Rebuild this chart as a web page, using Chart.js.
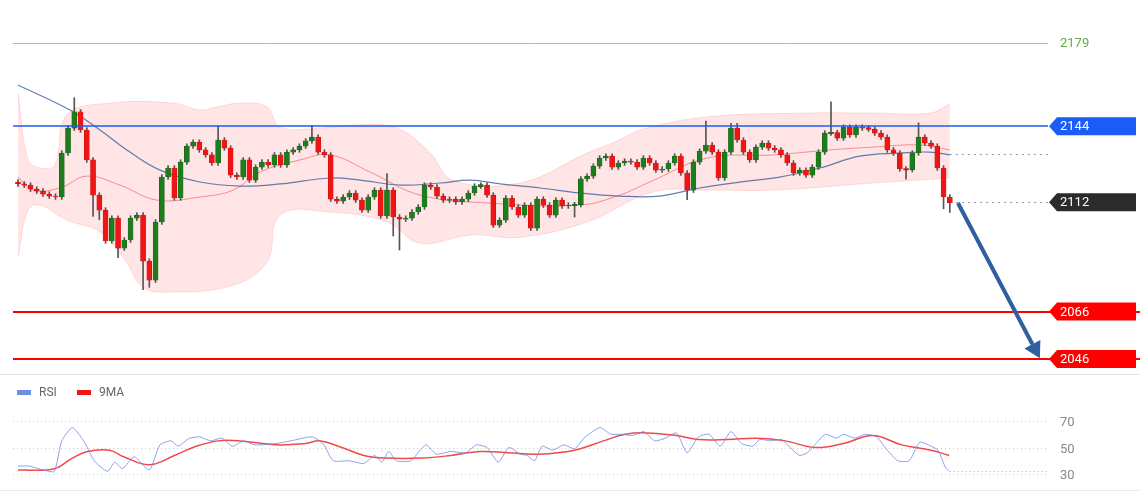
<!DOCTYPE html>
<html><head><meta charset="utf-8">
<script src="https://cdn.jsdelivr.net/npm/chart.js@4"></script>
<style>body{margin:0;background:#fff;width:1140px;height:500px;overflow:hidden;font-family:Roboto,Arial,sans-serif}
canvas{display:block}</style></head>
<body>
<canvas id="main" width="1140" height="375"></canvas>
<canvas id="rsi" width="1140" height="125"></canvas>
<script>
const firstOpen = 2120.5;
const closes = [
2119.7,2119.2,2117.5,2116.7,2115.4,2114.6,2114.2,2132.7,2143.2,2150.0,
2142.4,2129.8,2115.0,2108.7,2095.7,2105.3,2092.7,2096.1,2105.3,2106.6,
2087.2,2079.2,2103.7,2122.6,2126.4,2113.8,2128.9,2135.6,2137.3,2134.0,
2131.9,2128.5,2138.2,2134.8,2123.4,2122.6,2129.8,2121.3,2126.8,2128.9,
2127.7,2131.9,2127.7,2133.1,2134.0,2135.6,2137.8,2139.4,2133.1,2131.9,
2113.3,2112.5,2114.2,2115.9,2112.9,2108.7,2114.2,2117.1,2106.2,2117.1,
2105.8,2104.9,2105.3,2107.9,2110.0,2119.2,2118.4,2114.6,2112.9,2113.3,
2112.1,2113.3,2115.9,2118.8,2119.2,2115.0,2102.4,2104.5,2113.8,2110.0,
2106.6,2110.8,2101.1,2113.3,2110.8,2106.6,2112.9,2110.4,2110.8,2111.0,
2121.8,2123.0,2127.2,2130.6,2131.4,2126.8,2128.5,2129.3,2128.9,2126.8,
2130.6,2128.5,2125.5,2126.0,2128.5,2131.4,2124.3,2117.1,2128.9,2133.5,
2136.1,2133.1,2122.2,2133.1,2143.2,2138.2,2133.1,2129.8,2135.2,2136.9,
2134.8,2134.0,2131.9,2128.5,2124.3,2125.5,2123.4,2126.8,2133.1,2141.1,
2141.3,2139.0,2143.6,2140.3,2143.6,2143.2,2142.8,2141.1,2139.4,2134.0,
2132.7,2126.0,2125.7,2132.7,2139.4,2136.9,2135.6,2126.4,2114.2,2111.7];
const wickUp = [
1,1,1,1,1,1,1,1,1,6, 1,1,1,1,1,1,1,1,1,1, 1,1,1,1,1,1,1,1,1,1, 1,1,6,1,1,1,1,1,1,1,
1,1,1,1,1,1,1,5,1,1, 1,1,1,1,1,1,1,1,1,7, 1,1,1,1,1,1,1,1,1,1, 1,1,1,1,1,1,1,1,1,1,
1,1,1,1,1,1,1,1,1,1, 1,1,1,1,1,1,1,1,1,1, 1,1,1,1,1,1,1,1,1,1, 10,1,1,1,2,2,1,1,1,1,
1,1,1,1,1,1,1,1,1,1, 13,1,1,1,1,1,1,1,1,1, 1,1,1,1,6,1,1,1,1,1];
const wickDn = [
1,1,1,1,1,1,1,1,1,1, 1,1,9,4,1,1,4,1,1,1, 12,3,1,1,1,1,1,1,1,1, 1,1,1,1,1,1,1,1,1,1,
1,1,1,1,1,1,1,1,1,1, 1,1,1,1,1,1,1,1,1,1, 8,13,1,1,1,1,1,1,1,1, 1,1,1,1,1,1,1,1,1,1,
1,1,1,1,1,1,1,1,1,5, 1,1,1,1,1,1,1,1,1,1, 1,1,1,1,1,1,1,4,1,1, 1,1,1,1,1,1,1,1,1,1,
1,1,1,1,1,1,1,1,1,1, 1,1,1,1,1,1,1,1,1,1, 1,1,4,1,1,1,1,1,5,4];

const maSlowX = [0,8.3,13.1,17.9,22.7,29.1,35.5,41.9,49.9,54.7,61.1,67.5,72.3,77.1,83.5,89.8,96.2,102.6,109,115.4,121.8,128.2,134.6,141,145.8,149];
const maSlowY = [2161.3,2150.8,2142.4,2133.1,2125.5,2120.5,2118.8,2119.7,2122.2,2121.3,2119.2,2120.1,2121.3,2119.7,2118.0,2115.9,2114.6,2114.6,2118.0,2120.5,2122.6,2126.4,2131.4,2132.7,2133.1,2131.9];
const maFastX = [0,2.4,6.7,11,16.3,22.2,29.1,34.4,38.7,45.1,49.9,56.3,64.3,75,89.8,96.2,101,110.2,120.7,129.8,136.7,144.2,149];
const maFastY = [2122.6,2117.1,2118.0,2123.0,2119.2,2112.9,2114.2,2117.1,2124.7,2129.8,2131.9,2124.7,2115.0,2111.7,2110.8,2115.0,2120.5,2130.6,2131.9,2134.0,2135.2,2136.1,2134.0];
const bandUpX = [0,1.6,3.5,5.9,7.8,14.7,24.8,29.1,31.8,35.5,39.8,41.9,48.3,53.6,60.6,65.9,69.5,80.3,91,96.2,99.4,110.2,126.1,136.7,145.8,149];
const bandUpY = [2158.0,2129.8,2126.4,2127.7,2148.7,2153.7,2153.7,2150.8,2152.1,2153.7,2152.1,2143.6,2143.2,2144.5,2143.2,2132.7,2121.3,2120.1,2132.7,2138.2,2142.4,2147.9,2149.5,2149.5,2149.5,2153.3];
const bandLoX = [0,1.6,3.5,7.8,13.1,17.1,20,24.3,34.4,39.8,41.9,49.9,59,64.3,72.3,80.3,91,101.5,110.2,120.7,136.7,149];
const bandLoY = [2088.9,2108.7,2110.8,2104.5,2099.5,2087.7,2076.3,2074.2,2077.1,2086.8,2106.6,2107.9,2103.7,2094.8,2098.2,2097.3,2103.7,2116.3,2117.1,2117.1,2120.1,2122.2];

const levels = [2144, 2112, 2066, 2046];
const levelColors = ['#1a5cf5', '#2b2b2b', '#ff0000', '#ff0000'];
const topLevel = 2179;
const dottedLevel = 2132.3;
const arrowFrom = [150.3, 2111.7];
const arrowTo = [163.4, 2046.3];

const rsiX = [0,1.8,4.1,5.8,7,8.7,10.5,12.2,14.3,15.5,16.7,18.6,21,22.7,24.5,25.6,27.4,29.1,30.8,32.6,34.3,36.1,37.8,41.3,43.6,47.1,48.9,50.4,52.9,55.3,57,58.2,59.3,60.5,62.8,65.2,66.9,69.2,71.6,73.3,75,76.8,78.5,80.3,81.4,82.6,83.8,85.5,87.3,89,90.7,93.1,94.8,96.6,98.3,100.1,101.8,103.5,105.3,107,108.8,110.5,112.3,114,115.7,117.5,118.6,120.4,122.1,123.9,125,126.2,127.4,129.1,130.9,132,133.8,135.5,137.3,139,140.7,142.5,144.2,146,147.1,148.3,148.9];
const rsiY = [36,36,33,32,55,65,55,40,32,39,34,43,33,52,55,51,57,58,55,57,51,55,52,53,55,58,52,40,40,38,44,39,47,40,40,52,45,47,46,52,50,39,50,45,44,40,51,48,52,49,58,65,60,60,59,62,55,57,61,46,58,60,51,62,53,51,56,55,56,48,44,46,52,60,57,60,57,60,58,48,40,40,54,51,48,35,32];
const ma9X = [0,5.8,8.7,11.1,14.6,16.9,21,25,28.5,32,35.5,41.3,46,48.3,51.8,55.3,58.8,64.6,69.2,73.9,78.5,83.2,89,93.6,97.1,100.6,105.3,108.8,113.4,118.1,122.7,127.4,132,136.7,141.3,146,148.9];
const ma9Y = [33,34,42,47,48,43,37,44,51,55,55,52,53,55,50,44,42,42,44,47,46,45,48,55,60,61,59,56,56,57,55,50,53,59,52,48,44];
const rsiTicks = [70, 50, 30];

const pts = (xs, ys) => xs.map((x, i) => ({x, y: ys[i]}));
const opens = closes.map((c, i) => i === 0 ? firstOpen : closes[i - 1]);
const bodies = closes.map((c, i) => {
  let o = opens[i], lo = Math.min(o, c), hi = Math.max(o, c);
  if (hi - lo < 0.4) { hi += 0.2; lo -= 0.2; }
  return {x: i, y: [lo, hi]};
});
const wicks = closes.map((c, i) => ({x: i, y: [Math.min(opens[i], c) - wickDn[i], Math.max(opens[i], c) + wickUp[i]]}));
const bodyColors = closes.map((c, i) => c >= opens[i] ? '#1d7d1d' : '#f01414');
const bodyBorders = closes.map((c, i) => c >= opens[i] ? '#145a14' : '#c80c0c');

Chart.defaults.font.family = 'Roboto, Arial, sans-serif';
const X = () => ({type: 'linear', min: -0.8, max: 164.7, display: false, offset: false});

const mainPlugin = {
  id: 'mainDeco',
  beforeDatasetsDraw(ch) {
    const c = ch.ctx, y = ch.scales.y;
    const L = ch.chartArea.left, R = ch.chartArea.right;
    c.save();
    let py = Math.round(y.getPixelForValue(topLevel)) + 0.5;
    c.strokeStyle = '#b5b5b5'; c.lineWidth = 1;
    c.beginPath(); c.moveTo(L, py); c.lineTo(R, py); c.stroke();
    c.fillStyle = '#6aaa3a'; c.font = '13px Roboto'; c.textBaseline = 'middle';
    c.fillText(String(topLevel), R + 12, py);
    c.restore();
  },
  afterDatasetsDraw(ch) {
    const c = ch.ctx, y = ch.scales.y, x = ch.scales.x;
    const L = ch.chartArea.left, R = ch.chartArea.right;
    c.save();
    c.setLineDash([2, 4]); c.strokeStyle = '#8c9bb5'; c.lineWidth = 1;
    let dy = Math.round(y.getPixelForValue(dottedLevel)) + 0.5;
    c.beginPath(); c.moveTo(x.getPixelForValue(149), dy); c.lineTo(R, dy); c.stroke();
    let ly = Math.round(y.getPixelForValue(levels[1])) + 0.5;
    c.strokeStyle = '#999';
    c.beginPath(); c.moveTo(x.getPixelForValue(150), ly); c.lineTo(R, ly); c.stroke();
    c.setLineDash([]);
    [[0, 1.5, R], [2, 2, 1140], [3, 2, 1140]].forEach(([k, w, end]) => {
      const p = Math.round(y.getPixelForValue(levels[k]));
      c.strokeStyle = levelColors[k]; c.lineWidth = w;
      c.beginPath(); c.moveTo(L, p); c.lineTo(end, p); c.stroke();
    });
    levels.forEach((v, k) => {
      const p = y.getPixelForValue(v);
      c.fillStyle = levelColors[k];
      c.beginPath();
      c.moveTo(R + 1, p); c.lineTo(R + 9, p - 9); c.lineTo(1136, p - 9);
      c.lineTo(1136, p + 9); c.lineTo(R + 9, p + 9); c.closePath(); c.fill();
      c.fillStyle = '#fff'; c.font = '13px Roboto'; c.textBaseline = 'middle';
      c.fillText(String(v), R + 12, p + 1);
    });
    const x1 = x.getPixelForValue(arrowFrom[0]), y1 = y.getPixelForValue(arrowFrom[1]);
    const x2 = x.getPixelForValue(arrowTo[0]), y2 = y.getPixelForValue(arrowTo[1]);
    const ang = Math.atan2(y2 - y1, x2 - x1);
    c.strokeStyle = '#2f5f9e'; c.fillStyle = '#2f5f9e'; c.lineWidth = 4; c.lineCap = 'butt';
    const bx = x2 - 16 * Math.cos(ang), by = y2 - 16 * Math.sin(ang);
    c.beginPath(); c.moveTo(x1, y1); c.lineTo(bx, by); c.stroke();
    c.beginPath(); c.moveTo(x2, y2);
    c.lineTo(bx + 9 * Math.cos(ang + Math.PI / 2), by + 9 * Math.sin(ang + Math.PI / 2));
    c.lineTo(bx + 9 * Math.cos(ang - Math.PI / 2), by + 9 * Math.sin(ang - Math.PI / 2));
    c.closePath(); c.fill();
    c.strokeStyle = '#e4e4e4'; c.lineWidth = 1;
    c.beginPath(); c.moveTo(0, 374.5); c.lineTo(1140, 374.5); c.stroke();
    c.restore();
  }
};

new Chart(document.getElementById('main'), {
  data: {datasets: [
    {type: 'line', data: pts(bandUpX, bandUpY), borderColor: 'rgba(255,160,160,0.35)', borderWidth: 1, pointRadius: 0, tension: 0.4, fill: false, order: 5},
    {type: 'line', data: pts(bandLoX, bandLoY), borderColor: 'rgba(255,160,160,0.35)', borderWidth: 1, pointRadius: 0, tension: 0.4, fill: '-1', backgroundColor: 'rgba(255,190,190,0.4)', order: 5},
    {type: 'line', data: pts(maFastX, maFastY), borderColor: 'rgba(245,110,110,0.75)', borderWidth: 1, pointRadius: 0, tension: 0.4, order: 4},
    {type: 'line', data: pts(maSlowX, maSlowY), borderColor: 'rgba(70,105,160,0.85)', borderWidth: 1.2, pointRadius: 0, tension: 0.4, order: 3},
    {type: 'bar', data: wicks, backgroundColor: '#555', barThickness: 1, grouped: false, order: 2},
    {type: 'bar', data: bodies, backgroundColor: bodyColors, borderColor: bodyBorders, borderWidth: 0.5, borderSkipped: false, barThickness: 5, grouped: false, order: 1}
  ]},
  options: {
    responsive: false, animation: false, devicePixelRatio: 1,
    layout: {padding: {left: 13, right: 92, top: 0, bottom: 0}},
    scales: {x: X(), y: {type: 'linear', min: 2039.3, max: 2197.1, display: false}},
    plugins: {legend: {display: false}, tooltip: {enabled: false}}
  },
  plugins: [mainPlugin]
});

const rsiPlugin = {
  id: 'rsiDeco',
  beforeDatasetsDraw(ch) {
    const c = ch.ctx, y = ch.scales.y;
    const L = ch.chartArea.left, R = ch.chartArea.right;
    c.save();
    c.setLineDash([1, 3]); c.strokeStyle = '#c8c8c8'; c.lineWidth = 1;
    rsiTicks.forEach(t => {
      const p = Math.round(y.getPixelForValue(t)) + 0.5;
      c.beginPath(); c.moveTo(L, p); c.lineTo(R, p); c.stroke();
      c.fillStyle = '#888'; c.font = '13px Roboto'; c.textBaseline = 'middle';
      c.fillText(String(t), R + 12, p + 1);
    });
    const last = rsiY[rsiY.length - 1];
    const lp = Math.round(y.getPixelForValue(last)) + 0.5;
    c.strokeStyle = '#9fb0e0';
    c.beginPath(); c.moveTo(ch.scales.x.getPixelForValue(149), lp); c.lineTo(R, lp); c.stroke();
    c.setLineDash([]);
    c.font = '12px Roboto'; c.textBaseline = 'middle';
    c.fillStyle = '#6f8ee6'; c.fillRect(17, 15, 14, 5);
    c.fillStyle = '#666'; c.fillText('RSI', 39, 18);
    c.fillStyle = '#f01414'; c.fillRect(77, 15, 14, 5);
    c.fillStyle = '#666'; c.fillText('9MA', 99, 18);
    c.strokeStyle = '#e8e8e8';
    c.beginPath(); c.moveTo(0, 115.5); c.lineTo(1140, 115.5); c.stroke();
    c.restore();
  }
};

new Chart(document.getElementById('rsi'), {
  type: 'line',
  data: {datasets: [
    {data: pts(rsiX, rsiY), borderColor: 'rgba(110,140,230,0.8)', borderWidth: 1, pointRadius: 0, tension: 0.2},
    {data: pts(ma9X, ma9Y), borderColor: 'rgba(240,40,40,0.85)', borderWidth: 1.5, pointRadius: 0, tension: 0.4}
  ]},
  options: {
    responsive: false, animation: false, devicePixelRatio: 1,
    layout: {padding: {left: 13, right: 92, top: 0, bottom: 0}},
    scales: {x: X(), y: {type: 'linear', min: 10.4, max: 104.7, display: false}},
    plugins: {legend: {display: false}, tooltip: {enabled: false}}
  },
  plugins: [rsiPlugin]
});
</script>
</body></html>
